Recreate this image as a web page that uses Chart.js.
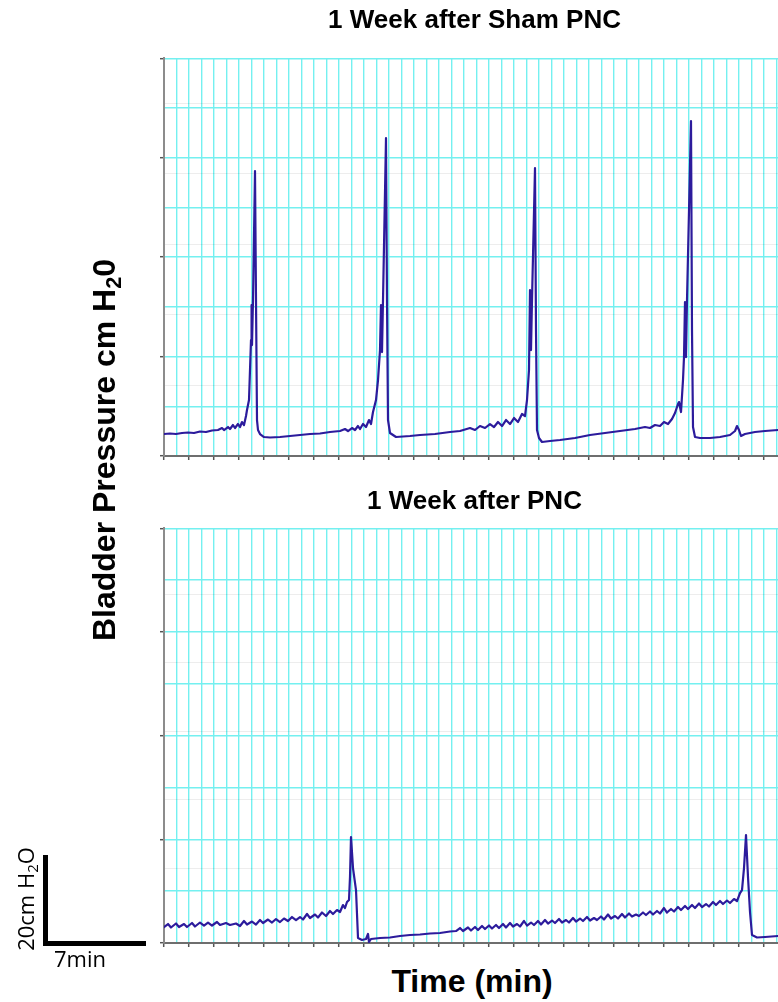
<!DOCTYPE html>
<html>
<head>
<meta charset="utf-8">
<script src="https://cdn.jsdelivr.net/npm/chart.js@4.4.1/dist/chart.umd.min.js"></script>
<style>
html,body{margin:0;padding:0;background:#fff;overflow:hidden;width:778px;height:1002px;}
#wrap{position:relative;width:778px;height:1002px;overflow:hidden;background:#fff;}
canvas{position:absolute;left:0;}
.bold{position:absolute;font-family:"Liberation Sans",Arial,Helvetica,sans-serif;font-weight:bold;color:#000;text-align:center;white-space:nowrap;}
.reg{position:absolute;font-family:"Open Sans",sans-serif;color:#000;white-space:nowrap;}
.sub{font-size:0.68em;position:relative;top:0.28em;line-height:0;}
.bar{position:absolute;background:#000;}
</style>
</head>
<body>
<div id="wrap">
  <canvas id="c1" width="800" height="470" style="top:0px"></canvas>
  <canvas id="c2" width="800" height="480" style="top:470px"></canvas>

  <div class="bold" id="ylab" style="font-size:32px;width:440px;height:36px;line-height:36px;left:-116px;top:432px;transform:rotate(-90deg);">Bladder Pressure cm H<span class="sub">2</span>0</div>
  <div class="bold" id="xlab" style="font-size:32px;width:300px;height:36px;line-height:36px;left:322px;top:963px;">Time (min)</div>

  <div class="bar" style="left:43px;top:855px;width:5px;height:91px;"></div>
  <div class="bar" style="left:43px;top:941px;width:103px;height:5px;"></div>
  <div class="reg" style="font-size:22px;line-height:22px;height:22px;left:54px;top:947px;">7min</div>
  <div class="reg" style="font-size:22px;width:120px;height:24px;line-height:24px;left:-35px;top:887px;text-align:center;transform:rotate(-90deg);">20cm H<span class="sub">2</span>O</div>
</div>
<script>
// ---- data (time in min, pressure in chart units) ----
const shamTime = [0,0.42,0.84,1.26,1.68,2.10,2.52,2.94,3.36,3.78,
4.06,4.20,4.48,4.62,4.83,4.97,5.18,5.32,5.46,5.60,
5.74,5.81,5.95,6.09,6.13,6.16,6.23,6.37,6.44,6.51,
6.58,6.72,7.00,7.42,8.12,8.82,9.52,10.22,10.92,11.62,
12.32,12.67,12.88,13.16,13.37,13.58,13.72,13.93,14.14,14.35,
14.49,14.63,14.84,14.98,15.12,15.19,15.26,15.33,15.54,15.61,
15.68,15.82,16.24,17.22,17.92,18.97,20.02,20.72,21.42,21.77,
22.12,22.47,22.82,23.10,23.38,23.66,23.94,24.22,24.50,24.78,
25.06,25.27,25.41,25.55,25.62,25.69,25.76,25.97,26.04,26.11,
26.25,26.46,27.02,27.72,28.77,29.82,30.87,31.92,32.97,33.67,
34.02,34.37,34.72,35.00,35.28,35.56,35.77,35.98,36.05,36.19,
36.33,36.40,36.47,36.54,36.61,36.89,36.96,37.03,37.17,37.52,
38.22,38.92,39.62,39.97,40.11,40.25,40.39,40.67,41.37,42.07,
42.98,43.75];
const shamPressure = [4.4,4.5,4.4,4.6,4.7,4.6,4.9,4.8,5.1,5.2,
5.6,5.2,5.8,5.4,6.2,5.6,6.4,5.8,6.8,6.2,
8.0,9.2,11.2,23.2,30.2,22.2,31.2,57.0,31.2,7.2,
5.2,4.4,3.8,3.7,3.8,4.0,4.2,4.4,4.5,4.8,
5.0,5.4,5.0,5.6,5.2,6.0,5.4,6.4,5.8,7.2,
6.4,8.8,11.2,15.2,21.2,30.2,20.8,31.2,63.6,31.2,
7.2,4.6,3.8,4.0,4.2,4.4,4.8,5.0,5.6,5.2,
6.0,5.6,6.4,5.8,6.8,6.0,7.2,6.4,7.6,6.8,
8.4,8.0,11.2,17.2,33.2,21.2,31.2,57.6,25.2,5.2,
3.6,2.8,3.0,3.2,3.6,4.2,4.6,5.0,5.4,5.8,
5.6,6.2,6.0,6.8,6.4,7.4,8.6,10.4,10.8,8.8,
15.2,19.8,30.8,19.8,31.2,67.0,25.2,5.8,3.8,3.6,
3.6,3.8,4.2,5.0,6.0,5.2,4.0,4.4,4.8,5.0,
5.2,5.4];

const pncTime = [0.00,0.28,0.49,0.84,1.05,1.40,1.61,1.96,2.17,2.52,
2.80,3.08,3.36,3.71,3.92,4.34,4.62,5.04,5.32,5.60,
5.81,6.16,6.44,6.72,6.93,7.28,7.56,7.84,8.12,8.40,
8.68,8.96,9.24,9.52,9.73,10.01,10.22,10.57,10.78,11.06,
11.34,11.62,11.83,12.11,12.32,12.53,12.67,12.81,12.95,13.02,
13.09,13.23,13.44,13.58,13.86,14.14,14.28,14.35,14.49,15.12,
15.82,16.52,17.22,17.92,18.62,19.32,20.02,20.44,20.72,20.93,
21.28,21.49,21.77,21.98,22.26,22.47,22.75,22.96,23.24,23.45,
23.73,23.94,24.22,24.43,24.71,24.92,25.20,25.41,25.69,25.90,
26.18,26.39,26.67,26.88,27.16,27.37,27.65,27.86,28.14,28.35,
28.63,28.84,29.12,29.33,29.61,29.82,30.10,30.31,30.59,30.80,
31.08,31.29,31.57,31.78,32.06,32.27,32.55,32.76,33.04,33.25,
33.53,33.74,34.02,34.23,34.51,34.72,35.00,35.21,35.49,35.70,
35.98,36.19,36.47,36.68,36.96,37.17,37.45,37.66,37.94,38.15,
38.43,38.64,38.92,39.13,39.41,39.62,39.90,40.11,40.32,40.46,
40.60,40.74,40.88,41.02,41.16,41.51,42.07,42.98,43.75];
const pncPressure = [3.2,3.8,3.1,3.9,3.2,3.8,3.2,4.0,3.3,4.1,
3.5,4.1,3.5,4.2,3.6,4.0,3.6,3.9,3.4,4.4,
3.7,4.3,3.7,4.6,4.0,4.7,4.1,4.8,4.2,4.9,
4.4,5.2,4.6,5.2,4.7,5.8,5.0,5.7,5.1,6.1,
5.4,6.4,5.8,6.6,6.2,7.6,7.0,8.2,8.6,13.2,
21.2,15.0,10.6,1.0,0.6,0.8,1.8,0.2,0.8,1.0,
1.1,1.4,1.6,1.7,1.9,2.0,2.3,2.4,3.0,2.4,
3.1,2.5,3.2,2.6,3.4,2.8,3.5,2.9,3.6,3.0,
3.8,3.1,4.0,3.3,3.8,3.3,4.4,3.5,4.1,3.6,
4.4,3.7,4.6,3.9,4.5,4.0,4.8,4.1,4.6,4.1,
5.0,4.3,4.9,4.4,5.2,4.5,5.0,4.6,5.3,4.7,
5.7,4.9,5.4,4.9,5.8,5.1,5.9,5.3,5.7,5.4,
6.1,5.6,6.3,5.7,6.4,5.9,7.0,6.1,6.8,6.3,
7.2,6.6,7.4,6.8,7.6,7.0,7.9,7.2,7.8,7.3,
8.2,7.6,8.4,7.8,8.5,8.0,8.8,8.4,10.0,10.6,
15.0,21.6,13.2,6.2,1.6,1.1,1.2,1.4,1.5];

// axis extents and faint reference lines
const X_MAX = 43.75;          // minutes shown
const X_GRID_STEP = 0.875;    // minutes per vertical grid line
const SHAM_Y_MAX = 79.6;
const PNC_Y_MAX = 83;
const shamFaint = [14.2, 28.3, 42.4, 56.5, 70.6];
const pncFaint = [15.0, 28.7, 42.4, 56.1, 69.8];

const GRID = '#74f0f0';
const TRACE = '#2c1b9c';
const FONT = '"Liberation Sans", Arial, Helvetica, sans-serif';

const xGrid = [];
for (let i = 0; i * X_GRID_STEP <= X_MAX + 1e-9; i++) xGrid.push(+(i * X_GRID_STEP).toFixed(4));

function tickCol(c) { return c.index % 2 === 0 ? '#555' : 'rgba(0,0,0,0)'; }

function build(id, title, times, pressures, yMax, faint, titlePad, pad) {
  return new Chart(document.getElementById(id), {
    type: 'line',
    data: {
      datasets: [{
        data: times.map((t, i) => ({ x: t, y: pressures[i] })),
        borderColor: TRACE,
        borderWidth: 2.2,
        borderJoinStyle: 'round',
        borderCapStyle: 'round',
        pointRadius: 0,
        tension: 0,
        fill: false
      }]
    },
    options: {
      responsive: false,
      animation: false,
      devicePixelRatio: 1,
      layout: { padding: pad },
      plugins: {
        legend: { display: false },
        tooltip: { enabled: false },
        title: {
          display: true, text: title, color: '#000',
          font: { family: FONT, size: 26, weight: 'bold' },
          padding: titlePad
        }
      },
      scales: {
        x: {
          type: 'linear', min: 0, max: X_MAX,
          ticks: { display: false },
          afterBuildTicks: s => { s.ticks = xGrid.map(v => ({ value: v })); },
          grid: { color: GRID, lineWidth: 1.4, tickLength: 4, tickColor: tickCol, tickWidth: 1.5 },
          border: { display: true, color: '#6e6e6e', width: 2 }
        },
        y: {
          type: 'linear', min: 0, max: yMax,
          ticks: { display: false },
          afterBuildTicks: s => { const a = []; for (let i = 0; i <= 8; i++) a.push({ value: yMax * i / 8 }); s.ticks = a; },
          grid: { color: GRID, lineWidth: 1.4, tickLength: 4, tickColor: tickCol, tickWidth: 1.5 },
          border: { display: true, color: '#8c8c8c', width: 2 }
        },
        y2: {
          type: 'linear', position: 'left', min: 0, max: yMax,
          ticks: { display: false },
          afterBuildTicks: s => { s.ticks = faint.map(v => ({ value: v })); },
          grid: { color: 'rgba(0,0,0,0.07)', lineWidth: 1, drawTicks: false },
          border: { display: false }
        }
      }
    }
  });
}

build('c1', '1 Week after Sham PNC', shamTime, shamPressure, SHAM_Y_MAX, shamFaint,
  { top: 5, bottom: 22 }, { left: 160, right: 11, top: 0, bottom: 10 });
build('c2', '1 Week after PNC', pncTime, pncPressure, PNC_Y_MAX, pncFaint,
  { top: 16, bottom: 11 }, { left: 160, right: 11, top: 0, bottom: 3 });
</script>
</body>
</html>
